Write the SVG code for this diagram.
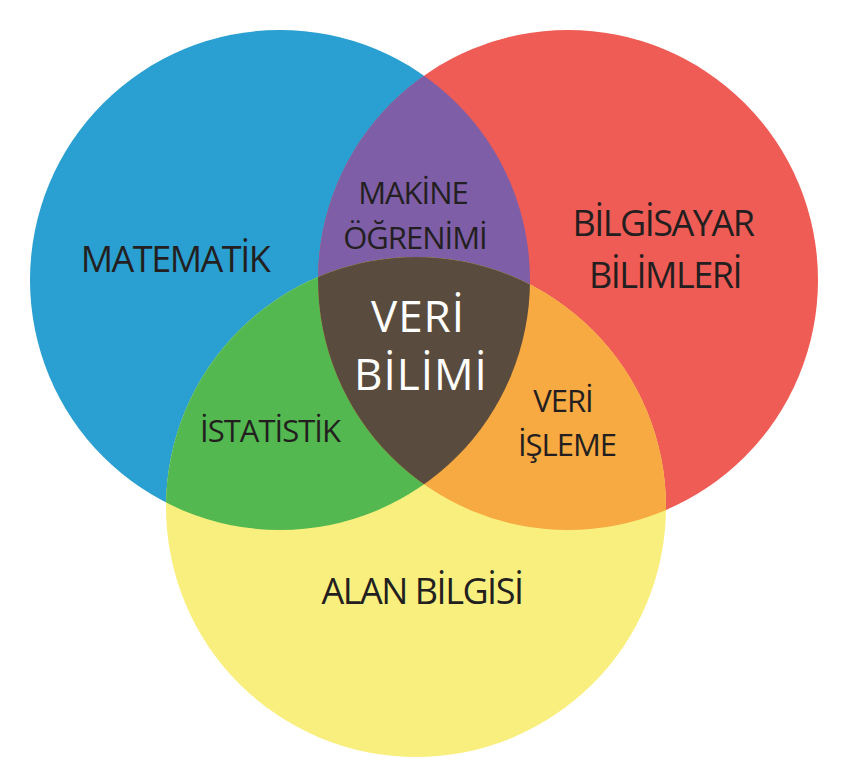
<svg xmlns="http://www.w3.org/2000/svg" width="846" height="782" viewBox="0 0 846 782">
<style>
text{font-family:"Open Sans","Liberation Sans",sans-serif;fill:#231f20;text-anchor:middle}
.b{font-size:36px;letter-spacing:-1.5px}
.s{font-size:31px;letter-spacing:-1px}
.w{fill:#fff;font-size:44px;letter-spacing:1px}
</style>
<defs>
<clipPath id="cA"><circle cx="280" cy="280" r="250"/></clipPath>
<clipPath id="cB"><circle cx="568" cy="280" r="250"/></clipPath>
</defs>
<g id="circles">
<circle id="matematik" cx="280" cy="280" r="250" fill="#2a9fd1"/>
<circle id="bilgisayar" cx="568" cy="280" r="250" fill="#ef5c55"/>
<circle id="alan" cx="416" cy="507" r="250" fill="#f9ef7f"/>
<circle id="makine" cx="568" cy="280" r="250" fill="#7e5ea7" clip-path="url(#cA)"/>
<circle id="istatistik" cx="416" cy="507" r="250" fill="#52b84f" clip-path="url(#cA)"/>
<circle id="isleme" cx="416" cy="507" r="250" fill="#f7a942" clip-path="url(#cB)"/>
<g clip-path="url(#cA)"><circle id="veri" cx="416" cy="507" r="250" fill="#594c3e" clip-path="url(#cB)"/></g>
</g>
<g id="labels">
<text class="b" x="175" y="272">MATEMATİK</text>
<text class="b" x="663" y="236">BİLGİSAYAR</text>
<text class="b" x="665" y="288">BİLİMLERİ</text>
<text class="b" x="422" y="604">ALAN BİLGİSİ</text>
<text class="s" x="413" y="204">MAKİNE</text>
<text class="s" x="415" y="249">ÖĞRENİMİ</text>
<text class="s" x="270" y="442">İSTATİSTİK</text>
<text class="s" x="563" y="412">VERİ</text>
<text class="s" x="567" y="456">İŞLEME</text>
<text class="w" x="418" y="332">VERİ</text>
<text class="w" x="421" y="390">BİLİMİ</text>
</g>
</svg>
